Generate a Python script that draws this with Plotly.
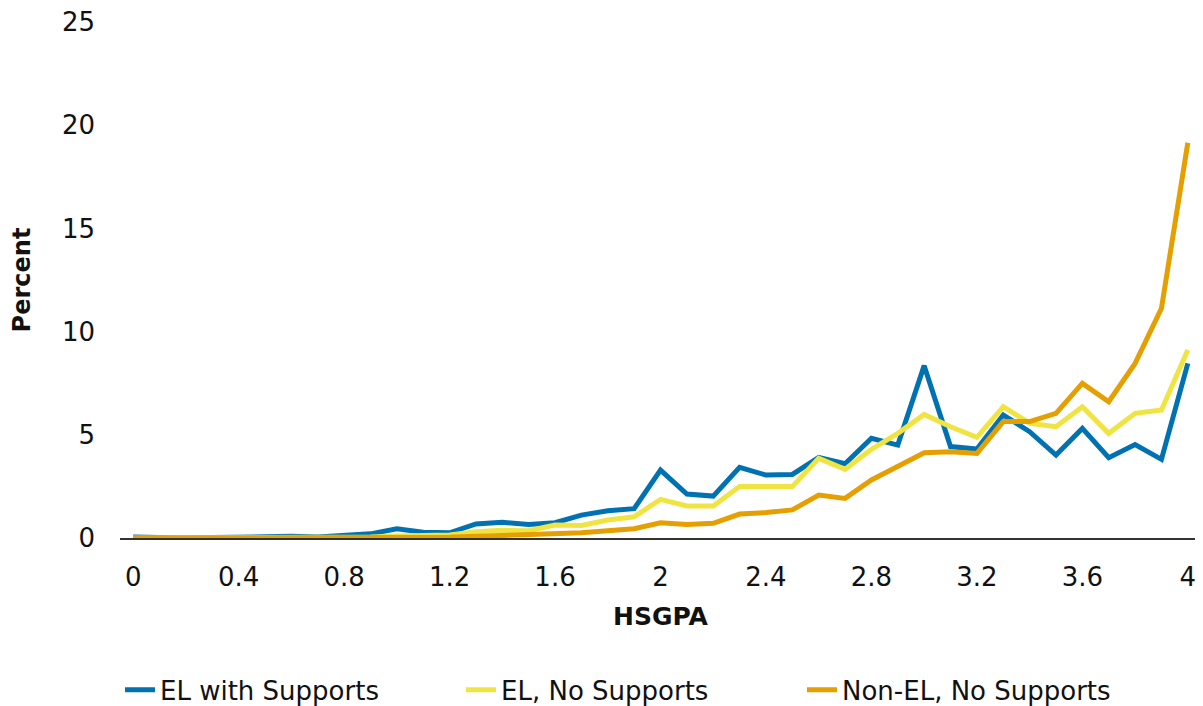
import plotly.graph_objects as go

hsgpa = [round(i * 0.1, 1) for i in range(41)]
tick_vals = [0, 0.4, 0.8, 1.2, 1.6, 2, 2.4, 2.8, 3.2, 3.6, 4]
tick_text = ["0", "0.4", "0.8", "1.2", "1.6", "2", "2.4", "2.8", "3.2", "3.6", "4"]

el_with_supports = [0.05, 0.0, 0.0, 0.02, 0.05, 0.05, 0.08, 0.05, 0.1, 0.2,
                    0.45, 0.28, 0.25, 0.68, 0.76, 0.66, 0.74, 1.11, 1.32, 1.42,
                    3.29, 2.13, 2.03, 3.42, 3.05, 3.08, 3.9, 3.6, 4.83, 4.5,
                    8.35, 4.43, 4.31, 5.96, 5.15, 4.02, 5.31, 3.89, 4.53, 3.81, 8.46]
el_no_supports = [0.0, 0.0, 0.0, 0.0, 0.0, 0.0, 0.0, 0.0, 0.03, 0.05,
                  0.1, 0.1, 0.15, 0.3, 0.37, 0.35, 0.63, 0.61, 0.87, 1.03,
                  1.87, 1.55, 1.55, 2.49, 2.49, 2.49, 3.86, 3.33, 4.3, 5.07,
                  5.99, 5.39, 4.88, 6.36, 5.56, 5.39, 6.36, 5.07, 6.04, 6.2, 9.11]
non_el_no_supports = [0.0, 0.0, 0.0, 0.0, 0.0, 0.0, 0.0, 0.0, 0.0, 0.0,
                      0.0, 0.02, 0.04, 0.08, 0.13, 0.13, 0.23, 0.26, 0.35, 0.45,
                      0.74, 0.66, 0.71, 1.16, 1.23, 1.36, 2.08, 1.92, 2.81, 3.5,
                      4.13, 4.18, 4.1, 5.64, 5.64, 6.04, 7.49, 6.6, 8.46, 11.13, 19.15]

series = [
    ("EL with Supports", el_with_supports, "#0072B2"),
    ("EL, No Supports", el_no_supports, "#F0E442"),
    ("Non-EL, No Supports", non_el_no_supports, "#E69F00"),
]

fig = go.Figure()
for name, vals, color in series:
    fig.add_trace(go.Scatter(x=hsgpa, y=vals, name=name, mode="lines",
                             line=dict(color=color, width=5)))

font_family = "DejaVu Sans, sans-serif"
fig.update_layout(
    width=1195, height=698,
    margin=dict(l=112, r=2, t=14, b=168, autoexpand=False),
    paper_bgcolor="white", plot_bgcolor="white",
    font=dict(family=font_family, size=26, color="#111111"),
    showlegend=True,
    legend=dict(orientation="h", x=0, xanchor="left",
                yref="container", y=0.023, yanchor="middle",
                font=dict(size=26, color="#111111"), entrywidth=296,
                tracegroupgap=0),
    xaxis=dict(range=[-0.05, 4.05], tickmode="array", tickvals=tick_vals, ticktext=tick_text,
               showgrid=False, zeroline=False, showline=True, linecolor="#333333", linewidth=2,
               ticks="", ticklabelstandoff=15, tickfont=dict(size=26),
               ticklabeloverflow="allow",
               title=dict(text="<b>HSGPA</b>", font=dict(size=25), standoff=16)),
    yaxis=dict(range=[0, 25], tickvals=[0, 5, 10, 15, 20, 25], showgrid=False, zeroline=False,
               showline=False, ticks="", ticklabelstandoff=24, tickfont=dict(size=26),
               ticklabeloverflow="allow",
               title=dict(text="<b>Percent</b>", font=dict(size=24), standoff=25)),
)

fig.write_html("out.html")
